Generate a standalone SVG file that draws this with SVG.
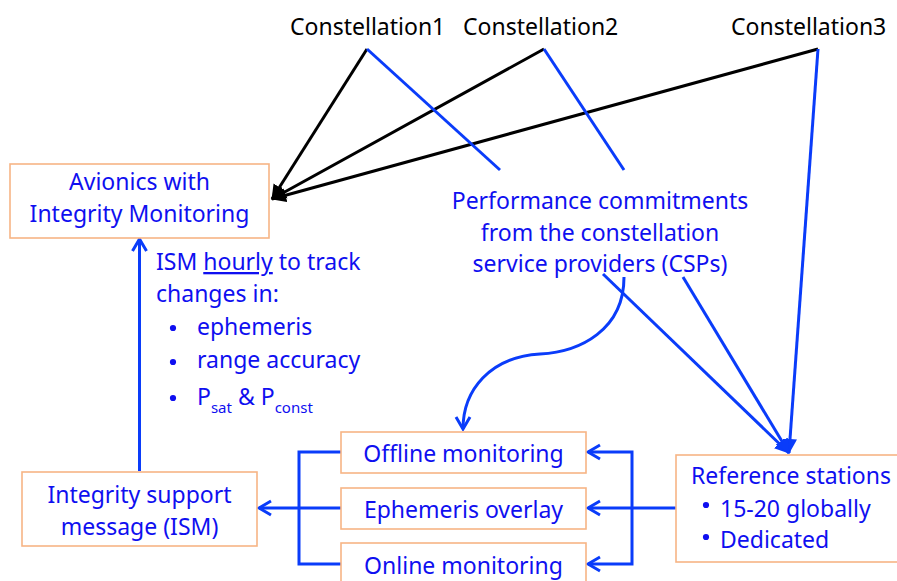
<svg xmlns="http://www.w3.org/2000/svg" width="897" height="581" viewBox="0 0 897 581">
  <style>
    .box { fill: #ffffff; stroke: #f7b585; stroke-width: 1.6; }
    .t { font-family: "Noto Sans", "Open Sans", sans-serif; font-size: 23px; fill: #0f0ff0; }
    .tc { text-anchor: middle; }
    .k { fill: #000000; }
    .sub { font-size: 15px; }
    .dot { fill: #0f0ff0; }
    .blue { fill: none; stroke: #0a3cfa; stroke-width: 3; }
    .black { fill: none; stroke: #000000; stroke-width: 3; }
  </style>
  <defs>
    <marker id="chev" markerUnits="userSpaceOnUse" markerWidth="16" markerHeight="18" viewBox="0 0 16 18" refX="14" refY="9" orient="auto">
      <path d="M2,2 L14,9 L2,16" fill="none" stroke="#0a3cfa" stroke-width="3" stroke-linejoin="miter"/>
    </marker>
    <marker id="triB" markerUnits="userSpaceOnUse" markerWidth="16" markerHeight="16" viewBox="0 0 16 16" refX="14" refY="8" orient="auto">
      <path d="M0,1 L15,8 L0,15 Z" fill="#0a3cfa"/>
    </marker>
    <marker id="triK" markerUnits="userSpaceOnUse" markerWidth="16" markerHeight="16" viewBox="0 0 16 16" refX="14" refY="8" orient="auto">
      <path d="M0,1 L15,8 L0,15 Z" fill="#000000"/>
    </marker>
  </defs>

  <!-- connectors -->
  <g id="connectors">
    <!-- constellations to avionics -->
    <line class="black" x1="367" y1="49" x2="272" y2="199" marker-end="url(#triK)"/>
    <line class="black" x1="544" y1="49" x2="272" y2="199" marker-end="url(#triK)"/>
    <line class="black" x1="818" y1="49" x2="272" y2="199" marker-end="url(#triK)"/>
    <!-- constellations to CSP commitments -->
    <line class="blue" x1="367" y1="49" x2="500" y2="170"/>
    <line class="blue" x1="544" y1="49" x2="624" y2="170"/>
    <line class="blue" x1="818" y1="49" x2="789" y2="453" marker-end="url(#triB)"/>
    <!-- CSP commitments to reference stations -->
    <line class="blue" x1="603" y1="274" x2="789" y2="453" marker-end="url(#triB)"/>
    <line class="blue" x1="683" y1="277" x2="789" y2="453" marker-end="url(#triB)"/>
    <!-- CSP commitments to offline monitoring -->
    <path class="blue" d="M624,277 C624,330 580,352 540,354 C490,357 463,390 463,429" marker-end="url(#chev)"/>
    <!-- reference stations to monitoring boxes -->
    <path class="blue" d="M676,508 L588,508" marker-end="url(#chev)"/>
    <path class="blue" d="M632,508 L632,452 L588,452" marker-end="url(#chev)"/>
    <path class="blue" d="M632,508 L632,564 L588,564" marker-end="url(#chev)"/>
    <!-- monitoring boxes to ISM -->
    <path class="blue" d="M341,452 L299,452 L299,564 L341,564"/>
    <path class="blue" d="M341,508 L259,508" marker-end="url(#chev)"/>
    <!-- ISM to avionics -->
    <line class="blue" x1="139.5" y1="471" x2="139.5" y2="239" marker-end="url(#chev)"/>
  </g>

  <!-- constellation labels -->
  <g id="constellation1"><text class="t k" x="290" y="35">Constellation1</text></g>
  <g id="constellation2"><text class="t k" x="463" y="35">Constellation2</text></g>
  <g id="constellation3"><text class="t k" x="731" y="35">Constellation3</text></g>

  <g id="avionics">
    <rect class="box" x="10" y="164" width="259" height="74"/>
    <text class="t tc" x="139.5" y="190">Avionics with</text>
    <text class="t tc" x="139.5" y="222">Integrity Monitoring</text>
  </g>

  <g id="csp-commitments">
    <text class="t tc" x="600" y="209">Performance commitments</text>
    <text class="t tc" x="600" y="241">from the constellation</text>
    <text class="t tc" x="600" y="272">service providers (CSPs)</text>
  </g>

  <g id="ism-note">
    <text class="t" x="156" y="270">ISM <tspan text-decoration="underline">hourly</tspan> to track</text>
    <text class="t" x="156" y="302">changes in:</text>
    <circle class="dot" cx="173" cy="328" r="3.1"/>
    <text class="t" x="197" y="335">ephemeris</text>
    <circle class="dot" cx="173" cy="362" r="3.1"/>
    <text class="t" x="197" y="368">range accuracy</text>
    <circle class="dot" cx="173" cy="398" r="3.1"/>
    <text class="t" x="197" y="405">P<tspan class="sub" dy="8">sat</tspan><tspan dy="-8"> &amp; P</tspan><tspan class="sub" dy="8">const</tspan></text>
  </g>

  <g id="ism">
    <rect class="box" x="22" y="472" width="235" height="74"/>
    <text class="t tc" x="139.5" y="503">Integrity support</text>
    <text class="t tc" x="139.5" y="535">message (ISM)</text>
  </g>

  <g id="offline-monitoring">
    <rect class="box" x="341" y="432" width="245" height="41"/>
    <text class="t tc" x="463.5" y="462">Offline monitoring</text>
  </g>
  <g id="ephemeris-overlay">
    <rect class="box" x="341" y="488" width="245" height="41"/>
    <text class="t tc" x="463.5" y="518">Ephemeris overlay</text>
  </g>
  <g id="online-monitoring">
    <rect class="box" x="341" y="543" width="245" height="42"/>
    <text class="t tc" x="463.5" y="574">Online monitoring</text>
  </g>

  <g id="reference-stations">
    <rect class="box" x="676" y="455" width="230" height="107"/>
    <text class="t" x="691" y="484">Reference stations</text>
    <circle class="dot" cx="706" cy="505" r="3.1"/>
    <text class="t" x="720" y="517">15-20 globally</text>
    <circle class="dot" cx="706" cy="537" r="3.1"/>
    <text class="t" x="720" y="548">Dedicated</text>
  </g>
</svg>
